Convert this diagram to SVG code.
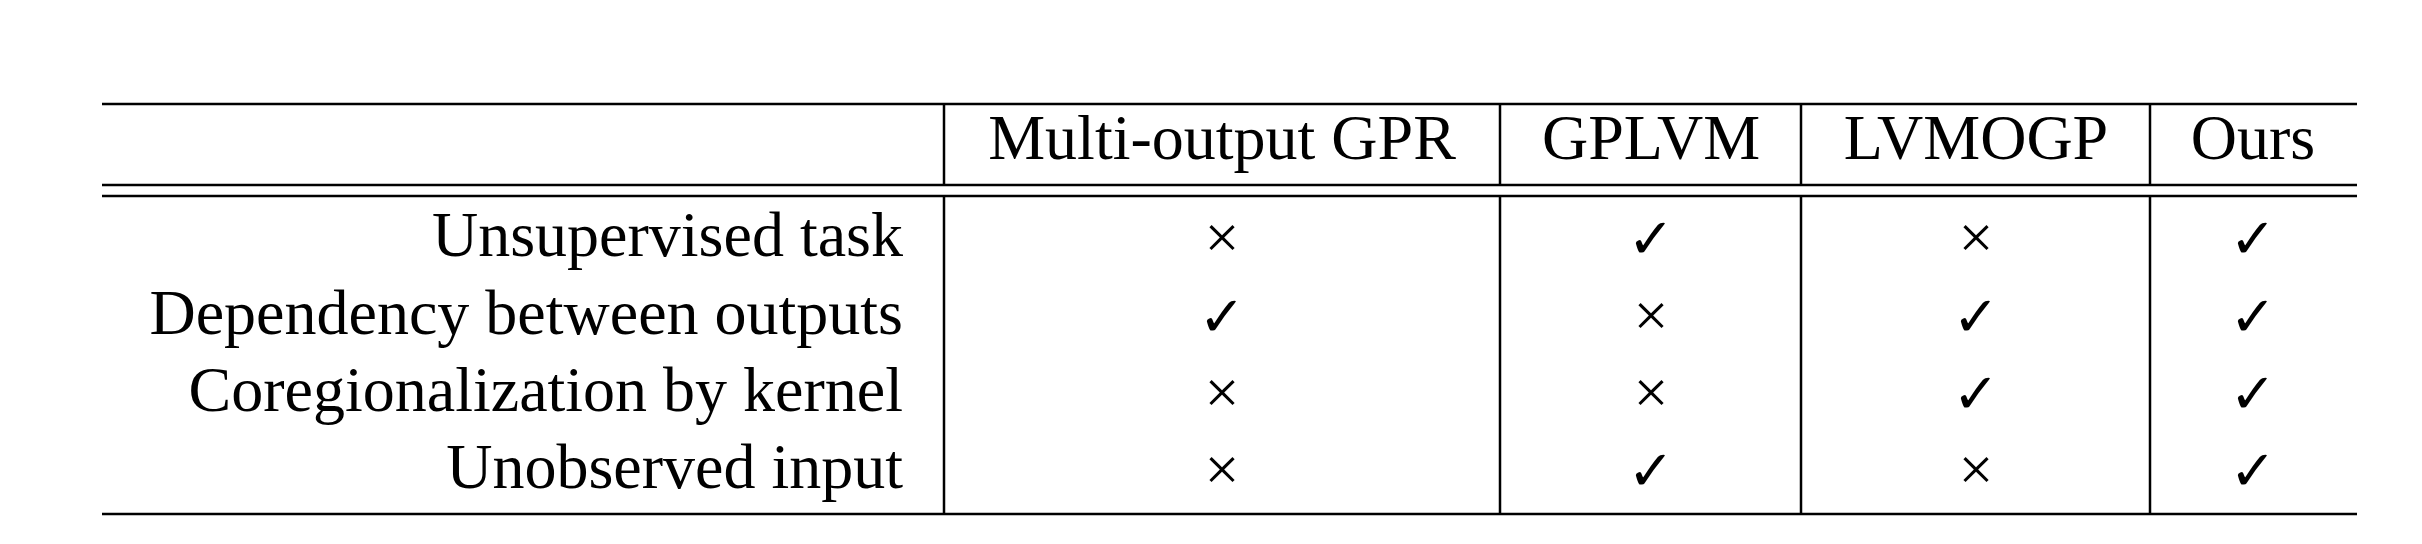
<svg xmlns="http://www.w3.org/2000/svg" width="2422" height="544" viewBox="0 0 2422 544">
<style>
.t{font-family:"Liberation Serif",serif;font-size:64px;fill:#000}
.r{text-anchor:end}
.c{text-anchor:middle}
.x{font-family:"Liberation Serif",serif;font-size:62px;text-anchor:middle}
.k{font-family:"DejaVu Sans",sans-serif;font-size:56px;text-anchor:middle}
line{stroke:#000;stroke-width:2.5}
</style>
<rect width="2422" height="544" fill="#fff"/>
<g id="rules">
<line x1="102" y1="104" x2="2357" y2="104"/>
<line x1="102" y1="185" x2="2357" y2="185"/>
<line x1="102" y1="196" x2="2357" y2="196"/>
<line x1="102" y1="514" x2="2357" y2="514"/>
<line x1="944" y1="104" x2="944" y2="185"/><line x1="944" y1="196" x2="944" y2="514"/>
<line x1="1500" y1="104" x2="1500" y2="185"/><line x1="1500" y1="196" x2="1500" y2="514"/>
<line x1="1801" y1="104" x2="1801" y2="185"/><line x1="1801" y1="196" x2="1801" y2="514"/>
<line x1="2150" y1="104" x2="2150" y2="185"/><line x1="2150" y1="196" x2="2150" y2="514"/>
</g>
<g id="header" class="t">
<text class="t c" x="1222" y="159">Multi-output GPR</text>
<text class="t c" x="1651" y="159">GPLVM</text>
<text class="t c" x="1976" y="159">LVMOGP</text>
<text class="t c" x="2253" y="159">Ours</text>
</g>
<g id="rows">
<text class="t r" x="903" y="256">Unsupervised task</text>
<text class="t r" x="903" y="334">Dependency between outputs</text>
<text class="t r" x="903" y="411">Coregionalization by kernel</text>
<text class="t r" x="903" y="488">Unobserved input</text>
</g>
<g id="marks">
<text class="x" x="1222" y="258">×</text><text class="k" x="1651" y="258">✓</text><text class="x" x="1976" y="258">×</text><text class="k" x="2253" y="258">✓</text>
<text class="k" x="1222" y="336">✓</text><text class="x" x="1651" y="336">×</text><text class="k" x="1976" y="336">✓</text><text class="k" x="2253" y="336">✓</text>
<text class="x" x="1222" y="413">×</text><text class="x" x="1651" y="413">×</text><text class="k" x="1976" y="413">✓</text><text class="k" x="2253" y="413">✓</text>
<text class="x" x="1222" y="490">×</text><text class="k" x="1651" y="490">✓</text><text class="x" x="1976" y="490">×</text><text class="k" x="2253" y="490">✓</text>
</g>
</svg>
